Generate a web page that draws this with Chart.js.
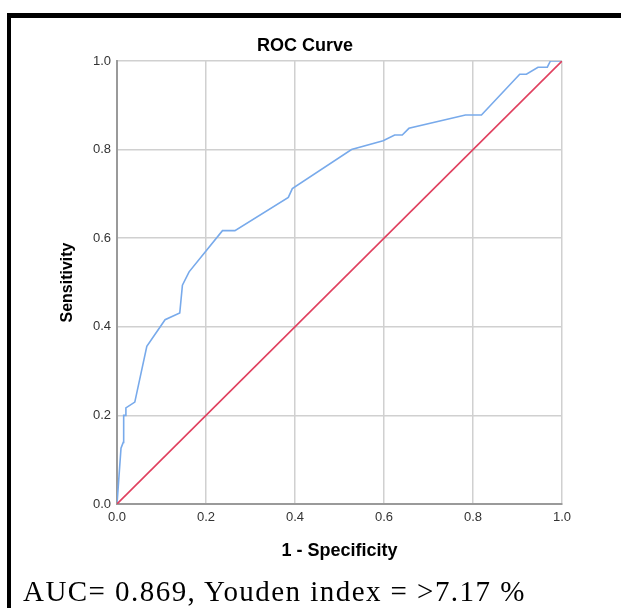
<!DOCTYPE html>
<html>
<head>
<meta charset="utf-8">
<script src="https://cdn.jsdelivr.net/npm/chart.js@4.4.1/dist/chart.umd.min.js"></script>
<style>
    body { margin: 0; background: #fff; width: 621px; height: 608px; overflow: hidden; position: relative; }
    #frame { position: absolute; left: 7px; top: 13px; width: 700px; height: 700px; border-top: 5px solid #000; border-left: 4px solid #000; }
    #rocChart { position: absolute; left: 0; top: 0; }
    #caption { position: absolute; left: 23px; top: 577px; font-family: "Liberation Serif", "Times New Roman", serif; font-size: 29px; line-height: 29px; letter-spacing: 1.45px; white-space: nowrap; color: #000; }
</style>
</head>
<body>
<div id="frame"></div>
<canvas id="rocChart" width="621" height="608"></canvas>
<div id="caption">AUC= 0.869, Youden index = &gt;7.17 %</div>
<script>
// 1 - specificity / sensitivity
const fpr = [0, 0.009, 0.014, 0.015, 0.02, 0.02, 0.04, 0.067, 0.108, 0.141, 0.147, 0.162,
    0.237, 0.265, 0.385, 0.394, 0.527, 0.598, 0.624, 0.641, 0.656, 0.783, 0.819,
    0.905, 0.92, 0.946, 0.967, 0.974, 1]
const tpr = [0, 0.126, 0.139, 0.2, 0.2, 0.217, 0.23, 0.356, 0.416, 0.431, 0.494, 0.524,
    0.617, 0.617, 0.692, 0.712, 0.80, 0.82, 0.833, 0.833, 0.848, 0.878, 0.878,
    0.97, 0.97, 0.986, 0.986, 1.0, 1]
const refLine = [0, 1]
const tickValues = [0, 0.2, 0.4, 0.6, 0.8, 1.0]

function to_points(xs, ys) {
    let pts = []
    for (let i = 0; i < xs.length; i++) {
        pts.push({x: xs[i], y: ys[i]})
    }
    return pts
}

function fixed_ticks(scale) {
    scale.ticks = tickValues.map(v => ({value: v}))
}

function create_roc_chart(_target) {
    let ctx = document.getElementById(_target);
    new Chart(ctx, {
        type: 'scatter',
        data: {
            datasets: [
                {
                    data: to_points(fpr, tpr),
                    showLine: true,
                    borderColor: '#78aaeb',
                    borderWidth: 1.6,
                    pointRadius: 0,
                    tension: 0,
                    order: 1
                },
                {
                    data: to_points(refLine, refLine),
                    showLine: true,
                    borderColor: '#e0405f',
                    borderWidth: 1.6,
                    pointRadius: 0,
                    order: 0
                }
            ]
        },
        options: {
            responsive: false,
            animation: false,
            layout: {
                padding: {left: 48, right: 59, top: 0, bottom: 0}
            },
            plugins: {
                legend: {display: false},
                tooltip: {enabled: false},
                title: {
                    display: true,
                    text: 'ROC Curve',
                    color: '#000',
                    font: {family: 'Liberation Sans, Arial, sans-serif', size: 18, weight: 'bold'},
                    padding: {top: 35.2, bottom: 4.2}
                }
            },
            scales: {
                x: {
                    type: 'linear',
                    min: 0,
                    max: 1,
                    afterBuildTicks: fixed_ticks,
                    afterFit: function (scale) { scale.height = 104 },
                    grid: {color: '#d0d0d0', lineWidth: 1.5, drawTicks: false},
                    border: {color: '#9a9a9a', width: 2},
                    ticks: {
                        padding: 6,
                        color: '#333',
                        font: {family: 'Liberation Sans, Arial, sans-serif', size: 13},
                        callback: v => v.toFixed(1)
                    },
                    title: {
                        display: true,
                        text: '1 - Specificity',
                        color: '#000',
                        font: {family: 'Liberation Sans, Arial, sans-serif', size: 18, weight: 'bold'},
                        padding: {top: 4, bottom: 45.7}
                    }
                },
                y: {
                    type: 'linear',
                    min: 0,
                    max: 1,
                    afterBuildTicks: fixed_ticks,
                    afterFit: function (scale) { scale.width = 69 },
                    grid: {color: '#d0d0d0', lineWidth: 1.5, drawTicks: false},
                    border: {color: '#9a9a9a', width: 2},
                    ticks: {
                        padding: 6,
                        color: '#333',
                        font: {family: 'Liberation Sans, Arial, sans-serif', size: 13},
                        callback: v => v.toFixed(1)
                    },
                    title: {
                        display: true,
                        text: 'Sensitivity',
                        color: '#000',
                        font: {family: 'Liberation Sans, Arial, sans-serif', size: 16, weight: 'bold'},
                        padding: {top: 10.4, bottom: 4}
                    }
                }
            }
        }
    });
}

create_roc_chart('rocChart')
</script>
</body>
</html>
